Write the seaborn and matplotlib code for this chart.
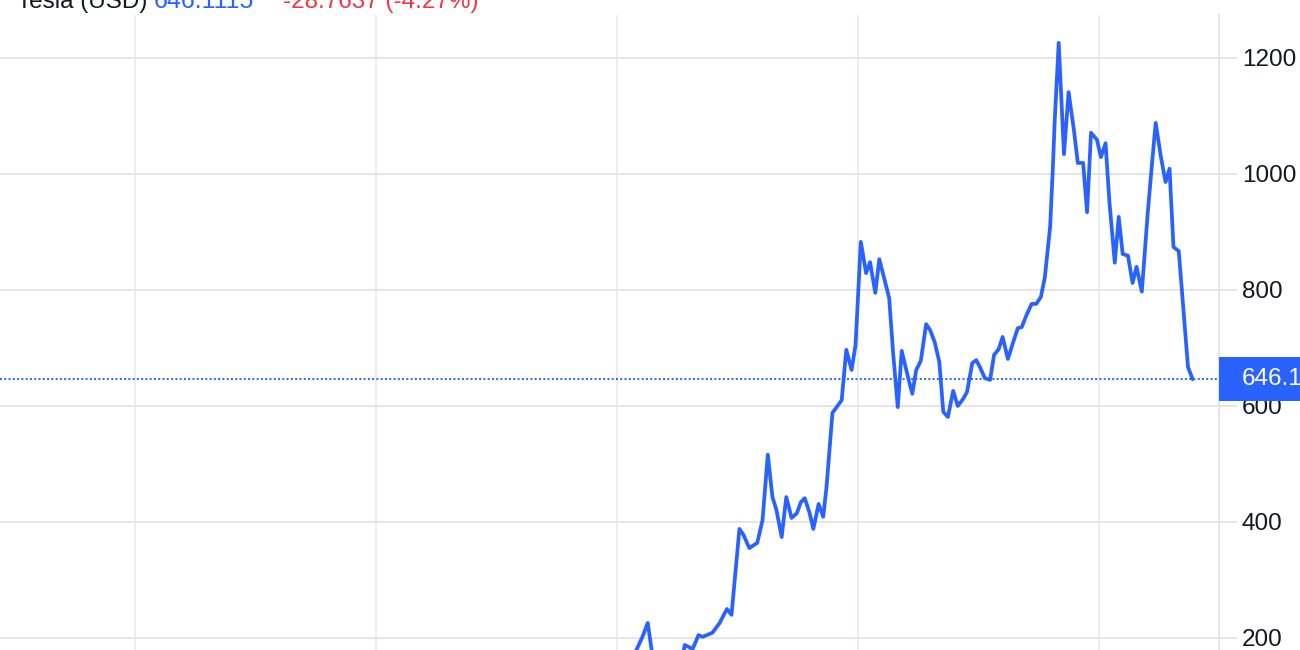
import pandas as pd
import matplotlib.pyplot as plt
import matplotlib.transforms as mtransforms
from matplotlib.patches import Rectangle
import seaborn as sns

# weekly-ish closes (values below ~180 fall outside the view)
dates = [
    '2017-06-12', '2017-09-18', '2018-01-01', '2018-04-02', '2018-08-06', '2018-12-10',
    '2019-03-04', '2019-06-03', '2019-09-30', '2019-12-23', '2020-01-27', '2020-02-09',
    '2020-02-17', '2020-02-24', '2020-03-16', '2020-04-06', '2020-04-13', '2020-04-25',
    '2020-05-04', '2020-05-10', '2020-05-25', '2020-06-05', '2020-06-16', '2020-06-23',
    '2020-07-05', '2020-07-11', '2020-07-20', '2020-08-01', '2020-08-09', '2020-08-17',
    '2020-08-24', '2020-08-30', '2020-09-07', '2020-09-14', '2020-09-22', '2020-09-30',
    '2020-10-06', '2020-10-12', '2020-10-19', '2020-10-25', '2020-11-02', '2020-11-09',
    '2020-11-14', '2020-11-23', '2020-12-07', '2020-12-14', '2020-12-22', '2020-12-28',
    '2021-01-05', '2021-01-13', '2021-01-19', '2021-01-27', '2021-02-02', '2021-02-09',
    '2021-02-17', '2021-02-23', '2021-03-02', '2021-03-08', '2021-03-16', '2021-03-24',
    '2021-03-30', '2021-04-06', '2021-04-14', '2021-04-20', '2021-04-27', '2021-05-04',
    '2021-05-10', '2021-05-17', '2021-05-25', '2021-06-01', '2021-06-09', '2021-06-15',
    '2021-06-23', '2021-06-29', '2021-07-05', '2021-07-12', '2021-07-20', '2021-07-26',
    '2021-08-02', '2021-08-08', '2021-08-16', '2021-08-24', '2021-08-31', '2021-09-06',
    '2021-09-14', '2021-09-21', '2021-09-28', '2021-10-05', '2021-10-11', '2021-10-19',
    '2021-10-23', '2021-10-26', '2021-11-01', '2021-11-09', '2021-11-16', '2021-11-24',
    '2021-11-30', '2021-12-08', '2021-12-14', '2021-12-20', '2021-12-29', '2022-01-04',
    '2022-01-11', '2022-01-17', '2022-01-25', '2022-01-31', '2022-02-06', '2022-02-14',
    '2022-02-21', '2022-02-27', '2022-03-07', '2022-03-16', '2022-03-22', '2022-03-28',
    '2022-04-05', '2022-04-12', '2022-04-18', '2022-04-24', '2022-05-02', '2022-05-16',
    '2022-05-23',
]
prices = [
    75, 76, 64, 52, 68, 72,
    57, 42, 48, 85, 170, 202,
    226, 170, 110, 140, 188, 181,
    205, 202, 209, 226, 250, 240,
    388, 378, 355, 364, 403, 516,
    443, 421, 374, 443, 407, 415,
    434, 441, 417, 388, 431, 409,
    460, 588, 610, 697, 662, 705,
    883, 829, 848, 795, 853, 822,
    786, 691, 598, 695, 657, 621,
    662, 678, 741, 731, 710, 676,
    590, 581, 626, 600, 612, 624,
    674, 679, 666, 648, 645, 688,
    698, 719, 681, 710, 734, 736,
    759, 776, 776, 788, 822, 909,
    1007, 1093, 1226, 1034, 1141, 1076,
    1019, 1019, 934, 1071, 1059, 1029,
    1053, 950, 847, 926, 862, 859,
    812, 840, 797, 933, 1012, 1088,
    1029, 986, 1009, 874, 867, 667,
    646.1115,
]

last_price = 646.1115
change = -28.7637
change_pct = -4.27
year_ticks = ['2018-01-01', '2019-01-01', '2020-01-01', '2021-01-01', '2022-01-01']
price_ticks = [200, 400, 600, 800, 1000, 1200]

BLUE = '#2962ff'
RED = '#f23645'
TEXT = '#131722'
GRID_H = '#e0e3e6'
GRID_V = '#e3edf1'

sns.set_theme(style="whitegrid")
plt.rcParams['font.family'] = ['Liberation Sans', 'DejaVu Sans']

df = pd.DataFrame({'date': pd.to_datetime(dates), 'price': prices})

fig = plt.figure(figsize=(13, 6.5), dpi=100)
ax = fig.add_axes([0, 0, 1219 / 1300, 1 - 15 / 650])

sns.lineplot(data=df, x='date', y='price', ax=ax, color=BLUE, linewidth=2.7, estimator=None)
ax.axhline(last_price, color=BLUE, linewidth=1.4, linestyle=(0, (1, 1.2)), zorder=3)

ax.set_xlim(pd.Timestamp('2017-06-10'), pd.Timestamp('2022-07-02'))
ax.set_ylim(179.3, 1274)

ax.set_xticks(pd.to_datetime(year_ticks))
ax.set_xticklabels([])
ax.tick_params(axis='x', length=0)
ax.yaxis.tick_right()
ax.set_yticks(price_ticks)
ax.tick_params(axis='y', length=13, width=1.3, color=GRID_H, pad=3.5,
               labelsize=17.5, labelcolor=TEXT)
ax.grid(axis='x', color=GRID_V, linewidth=1.3)
ax.grid(axis='y', color=GRID_H, linewidth=1.3)
ax.set_xlabel('')
ax.set_ylabel('')
for side in ['left', 'top', 'bottom']:
    ax.spines[side].set_visible(False)
ax.spines['right'].set_color(GRID_H)
ax.spines['right'].set_linewidth(1.3)

# last price marker on the axis
trans = mtransforms.blended_transform_factory(ax.transAxes, ax.transData)
ax.add_patch(Rectangle((1.0, last_price - 38), 0.1, 76, transform=trans,
                       facecolor=BLUE, edgecolor='none', clip_on=False, zorder=5))
ax.text(1.0, last_price, f'{last_price:.1f}', color='white', fontsize=17.5,
        va='center', ha='left', clip_on=False, zorder=6,
        transform=mtransforms.offset_copy(trans, fig=fig, x=23, y=0, units='dots'))

# header (cut off by the top edge)
y_head = 1 - 8 / 650
fig.text(17 / 1300, y_head, 'Tesla (USD)', color=TEXT, fontsize=17.5, va='baseline')
fig.text(154 / 1300, y_head, f'{last_price:.4f}', color=BLUE, fontsize=18, va='baseline')
fig.text(283 / 1300, y_head, f'{change:.4f} ({change_pct:.2f}%)', color=RED,
         fontsize=17.5, va='baseline')

fig.savefig('out.png', dpi=100)
